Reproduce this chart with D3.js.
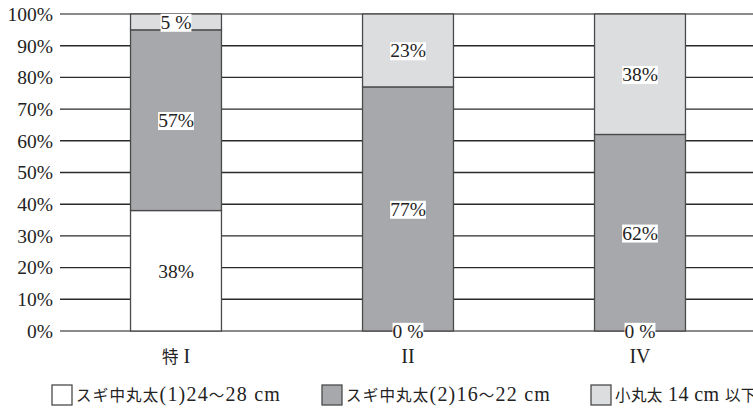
<!DOCTYPE html>
<html><head><meta charset="utf-8">
<script src="https://cdn.jsdelivr.net/npm/d3@7"></script>
<style>body{margin:0;background:#fff}svg{display:block}</style>
</head><body>
<svg id="c" width="753" height="408"></svg>
<script>
const categories = ["特 I", "II", "IV"];
const seriesNames = ["スギ中丸太(1)24～28 cm", "スギ中丸太(2)16～22 cm", "小丸太 14 cm 以下"];
const large = [38, 0, 0];
const medium = [57, 77, 62];
const small = [5, 23, 38];
const valueLabels = [["38%", "0 %", "0 %"], ["57%", "77%", "62%"], ["5 %", "23%", "38%"]];
const yTicks = [0, 10, 20, 30, 40, 50, 60, 70, 80, 90, 100];
const colors = ["#ffffff", "#a7a8ab", "#dcdddf"];

const svg = d3.select("#c");
const font = "'Liberation Serif','Noto Sans CJK JP',serif";
const cjkFont = "'Noto Sans CJK JP',sans-serif";
const x = d3.scaleBand().domain(categories).range([60, 756]).paddingInner(0.608).paddingOuter(0.304);
const y = d3.scaleLinear().domain([0, 100]).range([331, 14]);

// gridlines
svg.append("g").selectAll("line").data(yTicks).join("line")
  .attr("x1", 60).attr("x2", 753)
  .attr("y1", d => y(d)).attr("y2", d => y(d))
  .attr("stroke", d => (d === 0 || d === 100) ? "#8a8a8a" : "#2a2a2a")
  .attr("stroke-width", d => (d === 0 || d === 100) ? 2 : 1.4);

// y tick labels
svg.append("g").selectAll("text").data(yTicks).join("text")
  .attr("x", 53).attr("y", d => y(d)).attr("dy", "0.35em")
  .attr("text-anchor", "end").attr("font-family", font).attr("font-size", 19.5).attr("fill", "#222")
  .text(d => d + "%");

const stackData = categories.map((c, i) => ({cat: c, s0: large[i], s1: medium[i], s2: small[i]}));
const stacked = d3.stack().keys(["s0", "s1", "s2"])(stackData);

stacked.forEach((layer, k) => {
  svg.append("g").selectAll("rect").data(layer).join("rect")
    .attr("x", d => x(d.data.cat)).attr("width", x.bandwidth())
    .attr("y", d => y(d[1])).attr("height", d => y(d[0]) - y(d[1]))
    .attr("fill", colors[k]).attr("stroke", "#4a4a4a").attr("stroke-width", 1.3);
});

// value labels with white background
stacked.forEach((layer, k) => {
  layer.forEach((d, i) => {
    const cx = x(d.data.cat) + x.bandwidth() / 2;
    const cy = y((d[0] + d[1]) / 2);
    const g = svg.append("g");
    const t = g.append("text").attr("x", cx).attr("y", cy).attr("dy", "0.35em")
      .attr("text-anchor", "middle").attr("font-family", font).attr("font-size", 19.5).attr("fill", "#222")
      .text(valueLabels[k][i]);
    const bb = t.node().getBBox();
    if (k > 0 || (d[1] - d[0]) < 0.001) {
      g.insert("rect", "text").attr("x", bb.x).attr("y", bb.y + 2).attr("width", bb.width).attr("height", bb.height - 3).attr("fill", "#fff");
    }
  });
});

// helper: mixed CJK / Latin runs
const cjkRe = /[\u3000-\u9fff\uff00-\uffef]+|[^\u3000-\u9fff\uff00-\uffef]+/g;
const isCjk = s => /[\u3000-\u9fff\uff00-\uffef]/.test(s);
function mixed(sel, str, cjkSize, latSize) {
  (str.match(cjkRe) || []).forEach(run => {
    sel.append("tspan")
      .attr("font-family", isCjk(run) ? cjkFont : font)
      .attr("font-size", isCjk(run) ? cjkSize : latSize)
      .text(run);
  });
}

// x labels
categories.forEach(c => {
  const t = svg.append("text")
    .attr("x", x(c) + x.bandwidth() / 2).attr("y", 357).attr("dy", "0.35em")
    .attr("text-anchor", "middle").attr("fill", "#222")
    .style("white-space", "pre");
  mixed(t, c, 16.5, 20);
});

// legend
const legendX = [52, 322, 591];
seriesNames.forEach((n, k) => {
  svg.append("rect").attr("x", legendX[k]).attr("y", 385).attr("width", 20).attr("height", 20)
    .attr("fill", colors[k]).attr("stroke", "#4a4a4a").attr("stroke-width", 1.3);
  const t = svg.append("text").attr("x", legendX[k] + 24).attr("y", 395).attr("dy", "0.35em")
    .attr("fill", "#222").attr("letter-spacing", k === 2 ? 0.4 : 1.2).style("white-space", "pre");
  mixed(t, n, 15.5, 20);
});
</script>
</body></html>
